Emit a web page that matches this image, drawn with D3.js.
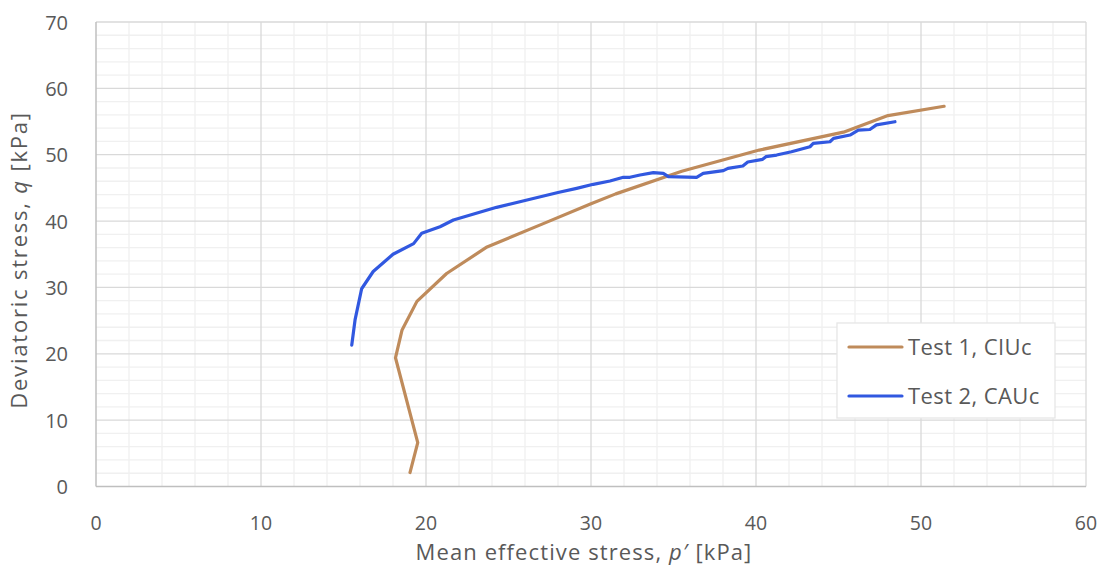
<!DOCTYPE html>
<html><head><meta charset="utf-8">
<script src="https://cdn.jsdelivr.net/npm/d3@7"></script>
<style>body{margin:0;background:#fff}svg{display:block}text{font-family:"Open Sans",sans-serif}</style>
</head><body>
<svg id="c" width="1105" height="567"></svg>
<script>
const seriesNames = ["Test 1, CIUc", "Test 2, CAUc"];
const test1P = [19.03,19.5,18.15,18.55,19.45,21.25,23.7,27.0,30.0,31.5,35.5,40.2,45.3,48.0,51.4];
const test1Q = [2.1,6.6,19.4,23.6,27.9,32.1,36.1,39.5,42.6,44.1,47.5,50.7,53.4,55.9,57.3];
const test2P = [15.5,15.7,16.1,16.8,18.0,19.25,19.74,20.85,21.66,24.28,26.0,28.0,29.13,30.14,31.15,31.96,32.36,32.97,33.78,34.38,34.69,36.4,36.8,38.02,38.3,39.2,39.5,40.4,40.6,41.25,42.15,43.27,43.47,44.48,44.7,45.7,46.2,46.9,47.3,48.42];
const test2Q = [21.3,25.1,29.8,32.4,35.0,36.6,38.15,39.15,40.16,42.07,43.1,44.3,44.93,45.54,46.04,46.6,46.6,46.94,47.3,47.2,46.69,46.6,47.2,47.6,47.95,48.3,48.9,49.3,49.7,49.95,50.45,51.2,51.7,51.95,52.47,52.97,53.7,53.8,54.5,54.97];
const xTicks = [0,10,20,30,40,50,60];
const yTicks = [0,10,20,30,40,50,60,70];
const colors = ["#bf8b5b","#3158e0"];

const svg = d3.select("#c");
const L=96, R=1086, T=22, B=486.5;
const x = d3.scaleLinear().domain([0,60]).range([L,R]);
const y = d3.scaleLinear().domain([0,70]).range([B,T]);
const g = svg.append("g");
const minor = d3.range(0,61,2).filter(v=>v%10!==0);
const minorY = d3.range(0,71,2).filter(v=>v%10!==0);
g.selectAll(".mx").data(minor).join("line").attr("x1",d=>x(d)).attr("x2",d=>x(d)).attr("y1",T).attr("y2",B).attr("stroke","#f0f0f0").attr("stroke-width",1.3);
g.selectAll(".my").data(minorY).join("line").attr("y1",d=>y(d)).attr("y2",d=>y(d)).attr("x1",L).attr("x2",R).attr("stroke","#f0f0f0").attr("stroke-width",1.3);
g.selectAll(".Mx").data(xTicks.slice(1)).join("line").attr("x1",d=>x(d)).attr("x2",d=>x(d)).attr("y1",T).attr("y2",B).attr("stroke","#d9d9d9").attr("stroke-width",1.3);
g.selectAll(".My").data(yTicks.slice(1)).join("line").attr("y1",d=>y(d)).attr("y2",d=>y(d)).attr("x1",L).attr("x2",R).attr("stroke","#d9d9d9").attr("stroke-width",1.3);
g.append("line").attr("x1",L).attr("x2",L).attr("y1",T).attr("y2",B).attr("stroke","#bfbfbf").attr("stroke-width",1.5);
g.append("line").attr("x1",L).attr("x2",R).attr("y1",B).attr("y2",B).attr("stroke","#bfbfbf").attr("stroke-width",1.5);
g.selectAll(".xl").data(xTicks).join("text").attr("x",d=>x(d)).attr("y",530).attr("text-anchor","middle").attr("font-size",19.5).attr("fill","#595959").text(d=>d);
g.selectAll(".yl").data(yTicks).join("text").attr("x",68).attr("y",d=>y(d)+7.5).attr("text-anchor","end").attr("font-size",20).attr("fill","#595959").text(d=>d);
const xt = svg.append("text").attr("x",584).attr("y",560).attr("text-anchor","middle").attr("font-size",22).attr("letter-spacing",1.1).attr("fill","#595959");
xt.append("tspan").text("Mean effective stress, ");
xt.append("tspan").attr("font-style","italic").text("p′");
xt.append("tspan").text(" [kPa]");
const yt = svg.append("text").attr("transform","translate(27,260) rotate(-90)").attr("text-anchor","middle").attr("font-size",22).attr("letter-spacing",1.8).attr("fill","#595959");
yt.append("tspan").text("Deviatoric stress, ");
yt.append("tspan").attr("font-style","italic").text("q");
yt.append("tspan").text(" [kPa]");
const line = d3.line().x(d=>x(d[0])).y(d=>y(d[1]));
const data = [d3.zip(test1P,test1Q), d3.zip(test2P,test2Q)];
svg.selectAll(".ser").data(data).join("path").attr("d",line).attr("fill","none").attr("stroke",(d,i)=>colors[i]).attr("stroke-width",3.2).attr("stroke-linejoin","round").attr("stroke-linecap","round");
const lg = svg.append("g");
lg.append("rect").attr("x",837).attr("y",323).attr("width",218).attr("height",95).attr("fill","#fff").attr("stroke","#e6e6e6").attr("stroke-width",1.3);
seriesNames.forEach((n,i)=>{
  const yy = 347 + i*49;
  lg.append("line").attr("x1",849).attr("x2",902).attr("y1",yy).attr("y2",yy).attr("stroke",colors[i]).attr("stroke-width",3.2).attr("stroke-linecap","round");
  lg.append("text").attr("x",908).attr("y",yy+8).attr("font-size",22).attr("letter-spacing",0.4).attr("fill","#595959").text(n);
});
</script>
</body></html>
